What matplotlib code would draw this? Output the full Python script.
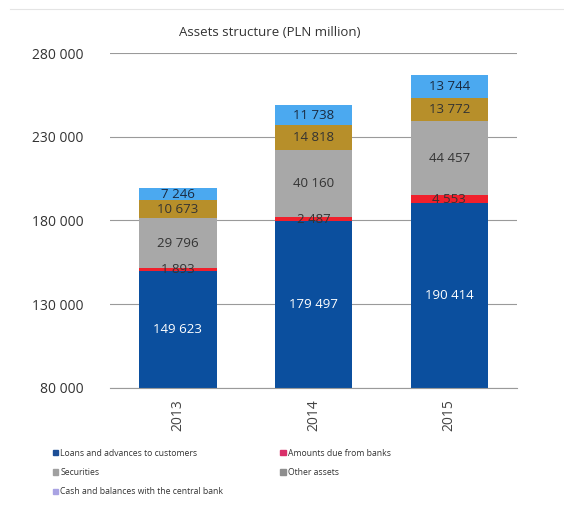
import matplotlib.pyplot as plt
from matplotlib.patches import Patch
from matplotlib.lines import Line2D
import numpy as np

plt.rcParams["font.family"] = ["Open Sans", "DejaVu Sans"]

years = ["2013", "2014", "2015"]
loans = [149623, 179497, 190414]
due_banks = [1893, 2487, 4553]
securities = [29796, 40160, 44457]
other_assets = [10673, 14818, 13772]
cash = [7246, 11738, 13744]

series = [
    ("Loans and advances to customers", loans, "#0b4f9e", "white"),
    ("Amounts due from banks", due_banks, "#f0202c", "#333333"),
    ("Securities", securities, "#a8a8a8", "#333333"),
    ("Other assets", other_assets, "#b78f2a", "#333333"),
    ("Cash and balances with the central bank", cash, "#4ba9f0", "#1a2a40"),
]
# legend swatches as drawn in the original (they differ from the bars)
legend_colors = ["#1d4e96", "#d9306a", "#a0a0a0", "#8e8e8e", "#a9a3e3"]

y_min, y_max = 80000, 280000

fig = plt.figure(figsize=(5.64, 5.2), dpi=100)
ax = fig.add_axes([0.195, 0.254, 0.722, 0.644])

x = np.arange(len(years))
bottom = np.zeros(len(years))
for name, vals, color, tcolor in series:
    vals = np.array(vals, dtype=float)
    ax.bar(x, vals, 0.57, bottom=bottom, color=color, zorder=2)
    for xi, b, v in zip(x, bottom, vals):
        label = f"{int(v):,}".replace(",", " ")
        # centre of the visible part of the segment
        yc = (max(b, y_min) + b + v) / 2
        ax.text(xi, yc, label, ha="center", va="center",
                fontsize=9.5, color=tcolor, zorder=3)
    bottom += vals

ax.set_ylim(y_min, y_max)
ax.set_xlim(-0.5, 2.5)
ticks = np.arange(y_min, y_max + 1, 50000)
ax.set_yticks(ticks)
ax.set_yticklabels([f"{v:,}".replace(",", " ") for v in ticks],
                   fontsize=10, color="#333333")
ax.set_xticks(x)
ax.set_xticklabels(years, rotation=90, fontsize=10, color="#444444")
ax.tick_params(length=0)
ax.tick_params(axis="y", pad=19)
ax.tick_params(axis="x", pad=8)
ax.grid(axis="y", color="#9a9a9a", linewidth=0.8, zorder=0)
for s in ["top", "right", "left"]:
    ax.spines[s].set_visible(False)
ax.spines["bottom"].set_color("#9a9a9a")
ax.spines["bottom"].set_linewidth(0.8)

fig.text(270 / 564, 1 - 33 / 520, "Assets structure (PLN million)",
         ha="center", va="center", fontsize=9.5, color="#333333")

fig.add_artist(Line2D([10 / 564, 1.0], [1 - 9 / 520, 1 - 9 / 520],
                      color="#e4e4e4", linewidth=0.8))

order = [0, 2, 4, 1, 3]
handles = [Patch(color=legend_colors[i], label=series[i][0]) for i in order]
fig.legend(handles=handles, loc="upper left",
           bbox_to_anchor=(45 / 564, 1 - 441 / 520), ncol=2, frameon=False,
           fontsize=6.2, handlelength=0.6, handleheight=0.6,
           handletextpad=0.3, columnspacing=6.6, labelspacing=1.2,
           labelcolor="#333333")

fig.savefig("out.png", dpi=100)
